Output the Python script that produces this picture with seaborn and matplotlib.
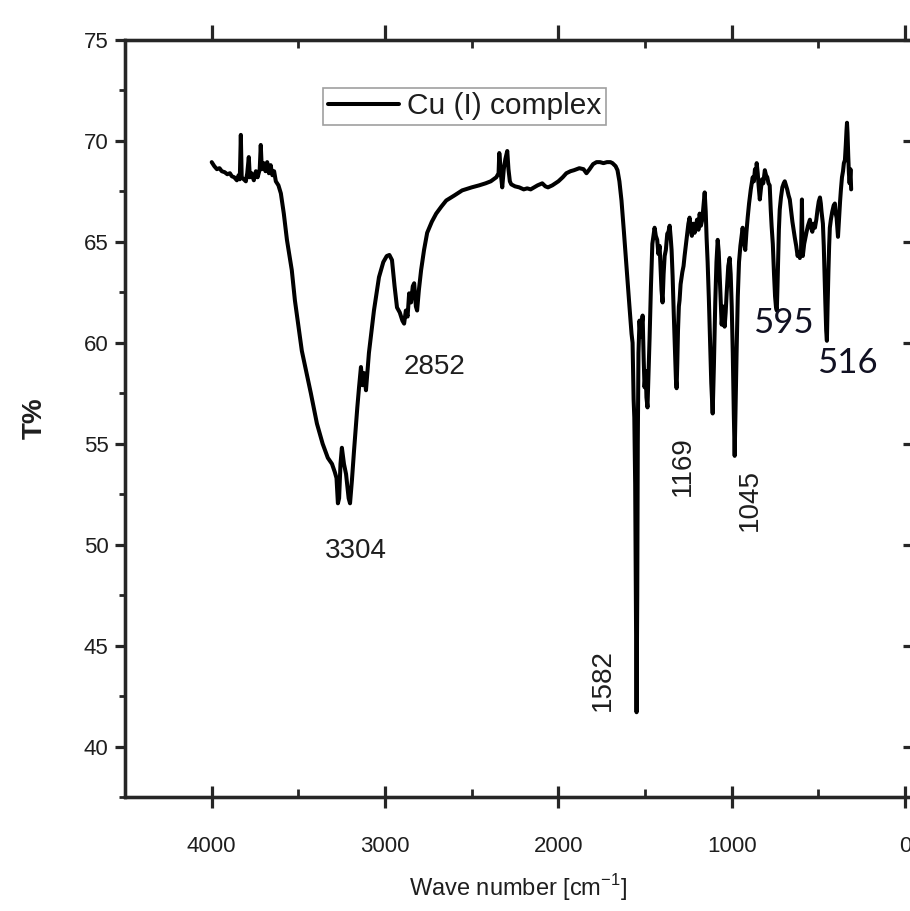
import numpy as np
import matplotlib
matplotlib.use("Agg")
import matplotlib.pyplot as plt
import seaborn as sns
from matplotlib.ticker import MultipleLocator

# -------------------------------
# FTIR spectrum of the Cu(I) complex
# -------------------------------
# 4000 - 2990 cm-1 (broad O-H / N-H band)
wn_high = [4000, 3985, 3970, 3955, 3942, 3925, 3910, 3895, 3884, 3870,
           3855, 3845, 3838, 3832, 3827, 3815, 3803, 3795, 3786, 3780,
           3770, 3757, 3745, 3735, 3723, 3717, 3711, 3700, 3690, 3680,
           3670, 3660, 3650, 3640, 3630, 3615, 3601, 3584, 3566, 3538,
           3520, 3480, 3428, 3393, 3360, 3330, 3306, 3290, 3280, 3272,
           3265, 3257, 3249, 3237, 3225, 3210, 3202, 3191, 3179, 3160,
           3150, 3139, 3130, 3121, 3110, 3093, 3064, 3035, 3010, 2990]
t_high = [68.95, 68.75, 68.6, 68.65, 68.5, 68.45, 68.35, 68.4, 68.25, 68.2,
          68.05, 68.3, 68.1, 70.3, 68.2, 68.1, 68.0, 68.4, 69.2, 68.2,
          68.4, 68.05, 68.5, 68.2, 68.6, 69.8, 68.6, 68.9, 68.5, 68.95,
          68.4, 68.8, 68.3, 68.5, 68.0, 67.8, 67.4, 66.4, 65.1, 63.6,
          62.1, 59.6, 57.5, 56.0, 55.0, 54.3, 54.0, 53.6, 53.3, 52.05,
          52.3, 54.0, 54.8, 54.0, 53.5, 52.3, 52.05, 53.2, 54.65, 56.8,
          57.8, 58.8, 57.9, 58.5, 57.65, 59.5, 61.6, 63.25, 64.0, 64.3]

# 2975 - 1659 cm-1
wn_mid = [2975, 2960, 2945, 2931, 2915, 2900, 2890, 2880, 2870, 2861,
          2850, 2840, 2832, 2822, 2815, 2805, 2792, 2775, 2757, 2730,
          2705, 2675, 2647, 2600, 2555, 2500, 2457, 2420, 2390, 2358,
          2345, 2341, 2335, 2330, 2324, 2315, 2306, 2295, 2288, 2280,
          2272, 2250, 2226, 2200, 2180, 2160, 2150, 2120, 2093, 2075,
          2060, 2035, 2000, 1975, 1954, 1930, 1910, 1879, 1855, 1838,
          1820, 1800, 1780, 1760, 1740, 1720, 1700, 1688, 1670, 1659]
t_mid = [64.35, 64.1, 62.8, 61.75, 61.5, 61.1, 60.95, 61.6, 61.3, 62.45,
         62.0, 62.8, 62.95, 61.8, 61.6, 62.6, 63.6, 64.6, 65.45, 66.0,
         66.4, 66.75, 67.05, 67.3, 67.55, 67.7, 67.8, 67.9, 68.0, 68.2,
         68.4, 69.4, 68.8, 68.2, 67.7, 68.6, 69.1, 69.5, 68.6, 68.0,
         67.85, 67.75, 67.7, 67.6, 67.65, 67.6, 67.65, 67.8, 67.9, 67.75,
         67.7, 67.8, 68.0, 68.2, 68.4, 68.5, 68.55, 68.65, 68.6, 68.4,
         68.6, 68.85, 68.95, 68.95, 68.9, 68.95, 68.95, 68.9, 68.75, 68.55]

# 1648 - 937 cm-1 (fingerprint, strong bands)
wn_fp = [1648, 1636, 1622, 1607, 1590, 1578, 1572, 1566, 1562, 1557,
         1553, 1549, 1545, 1542, 1538, 1532, 1526, 1520, 1514, 1508,
         1503, 1496, 1492, 1486, 1480, 1474, 1466, 1458, 1450, 1445,
         1438, 1430, 1423, 1416, 1410, 1405, 1399, 1393, 1387, 1380,
         1372, 1365, 1358, 1352, 1347, 1341, 1335, 1328, 1322, 1318,
         1314, 1310, 1305, 1301, 1295, 1285, 1278, 1272, 1265, 1258,
         1250, 1243, 1236, 1230, 1222, 1214, 1207, 1200, 1192, 1185,
         1178, 1170, 1163, 1156, 1150, 1145, 1139, 1132, 1125, 1118,
         1110, 1103, 1095, 1088, 1081, 1075, 1070, 1064, 1058, 1050,
         1041, 1035, 1029, 1020, 1012, 1006, 1000, 994, 988, 983,
         978, 972, 965, 958, 950, 944, 937]
t_fp = [68.0, 67.05, 65.5, 63.75, 61.8, 60.45, 60.0, 57.2, 56.3, 53.0,
        47.0, 41.7, 47.5, 55.0, 59.5, 61.1, 60.3, 60.8, 61.35, 59.2,
        57.8, 58.6, 57.3, 56.8, 58.5, 60.2, 62.8, 64.9, 65.4, 65.7,
        65.3, 65.1, 64.4, 64.8, 63.6, 62.6, 62.0, 63.4, 64.3, 64.6,
        65.4, 65.5, 65.8, 65.2, 64.6, 63.3, 61.6, 59.8, 58.2, 57.75,
        59.0, 60.6, 61.8, 62.1, 62.9, 63.5, 63.8, 64.3, 64.8, 65.3,
        65.9, 66.2, 65.6, 65.3, 65.9, 65.45, 65.8, 66.1, 65.6, 66.4,
        65.8, 66.1, 66.8, 67.45, 66.5, 65.2, 64.0, 62.2, 60.0, 58.0,
        56.5, 58.8, 62.0, 64.0, 65.1, 64.5, 63.4, 62.0, 60.9, 61.8,
        60.8, 61.5, 62.5, 63.8, 64.2, 63.4, 61.8, 59.5, 56.5, 54.4,
        56.8, 59.5, 62.3, 64.0, 64.8, 65.2, 65.7]

# 930 - 311 cm-1
wn_low = [930, 922, 915, 908, 900, 890, 879, 872, 866, 860,
          856, 850, 845, 838, 832, 825, 818, 809, 802, 795,
          788, 781, 775, 770, 763, 756, 750, 745, 740, 736,
          732, 728, 723, 716, 708, 700, 694, 687, 680, 672,
          665, 658, 650, 643, 636, 628, 620, 613, 607, 600,
          597, 595, 593, 590, 582, 575, 568, 560, 549, 542,
          535, 528, 520, 512, 505, 498, 491, 486, 482, 478,
          474, 469, 465, 460, 455, 451, 447, 442, 438, 434,
          428, 420, 412, 405, 400, 395, 390, 387, 382, 375,
          370, 364, 358, 353, 347, 342, 338, 335, 332, 328,
          324, 320, 315, 311]
t_low = [65.0, 64.6, 65.5, 66.2, 66.9, 67.6, 68.2, 68.0, 68.6, 68.3,
         68.9, 68.4, 67.8, 67.1, 67.6, 68.1, 67.9, 68.55, 68.3, 68.2,
         67.9, 67.8, 66.6, 65.8, 64.9, 63.4, 62.3, 61.8, 61.6, 62.8,
         64.2, 65.6, 66.6, 67.2, 67.7, 67.9, 68.0, 67.8, 67.6, 67.3,
         67.1, 66.6, 66.0, 65.6, 65.2, 64.8, 64.3, 64.5, 64.2, 64.6,
         66.0, 67.1, 65.6, 64.3, 64.9, 65.2, 65.5, 65.8, 66.1, 65.7,
         65.5, 65.9, 65.7, 66.1, 66.6, 67.0, 67.2, 66.9, 66.5, 66.2,
         65.9, 64.8, 63.5, 62.0, 60.6, 60.1, 61.8, 63.6, 64.8, 65.7,
         66.1, 66.5, 66.8, 66.9, 66.4, 66.2, 65.6, 65.25, 66.0, 67.0,
         67.6, 68.2, 68.5, 68.9, 69.05, 69.8, 70.5, 70.9, 70.4, 69.3,
         68.4, 67.9, 68.6, 67.6]

peak_labels = ["3304", "2852", "1582", "1169", "1045", "595", "516"]
x_ticks = [4000, 3000, 2000, 1000, 0]
y_ticks = [40, 45, 50, 55, 60, 65, 70, 75]

wavenumber = np.concatenate([wn_high, wn_mid, wn_fp, wn_low])
transmittance = np.concatenate([t_high, t_mid, t_fp, t_low])

# -------------------------------
# Style
# -------------------------------
sns.set_style("ticks")
plt.rcParams["font.family"] = ["Liberation Sans", "DejaVu Sans"]
plt.rcParams["axes.linewidth"] = 2.3
txt_col = "#1e1e1e"

fig = plt.figure(figsize=(9.1, 9.11), dpi=100)
ax = fig.add_axes([0.1374, 0.1251, 0.8648, 0.831])

sns.lineplot(x=wavenumber, y=transmittance, ax=ax, color="black",
             linewidth=2.9, sort=False, estimator=None, label="Cu (I) complex")

ax.set_xlim(4500, -40)
ax.set_ylim(37.5, 75)
ax.set_xticks(x_ticks)
ax.set_yticks(y_ticks)
ax.xaxis.set_minor_locator(MultipleLocator(500))
ax.yaxis.set_minor_locator(MultipleLocator(2.5))

ax.tick_params(axis="x", which="major", direction="inout", length=16, width=2.3,
               top=False, labelsize=16, labelcolor=txt_col, pad=20)
ax.tick_params(axis="x", which="minor", direction="in", length=6, width=2.0, top=False)
ax.tick_params(axis="y", which="major", direction="out", length=7, width=2.3,
               right=False, labelsize=16, labelcolor=txt_col, pad=5)
ax.tick_params(axis="y", which="minor", direction="out", length=4.5, width=2.0, right=False)

# top and right ticks go the other way, so draw them on twin axes
axt = ax.twiny()
axt.set_xlim(ax.get_xlim())
axt.set_xticks(x_ticks)
axt.xaxis.set_minor_locator(MultipleLocator(500))
axt.tick_params(axis="x", which="major", direction="out", length=11, width=2.3, labeltop=False)
axt.tick_params(axis="x", which="minor", direction="in", length=6, width=2.0)

axr = ax.twinx()
axr.set_ylim(ax.get_ylim())
axr.set_yticks(y_ticks)
axr.tick_params(axis="y", which="major", direction="in", length=6.5, width=2.3, labelright=False)

ax.set_xlabel("Wave number [cm$^{\\mathregular{-1}}$]", fontsize=17, color=txt_col, labelpad=11)
ax.set_ylabel("T%", fontsize=20, fontweight="bold", color=txt_col, labelpad=26)

leg = ax.legend(loc="upper left", bbox_to_anchor=(0.2516, 0.9366), borderaxespad=0,
                fontsize=21.5, frameon=True, fancybox=False, handlelength=2.4,
                handletextpad=0.25, borderpad=0.15)
leg.get_frame().set_edgecolor("#888888")
leg.get_frame().set_linewidth(1.2)
for t in leg.get_texts():
    t.set_color(txt_col)

# peak labels
arial = dict(fontsize=20, color=txt_col, ha="center", va="center")
ax.text(3168, 49.7, peak_labels[0], **arial)
ax.text(2717, 58.8, peak_labels[1], **arial)
ax.text(1746, 43.3, peak_labels[2], rotation=90, **arial)
ax.text(1283, 53.9, peak_labels[3], rotation=90, **arial)
ax.text(896, 52.2, peak_labels[4], rotation=90, **arial)
calib = dict(fontsize=25, color="#111122", ha="center", va="center", family=["Lato", "DejaVu Sans"])
ax.text(705, 61.0, peak_labels[5], **calib)
ax.text(335, 59.0, peak_labels[6], **calib)

fig.savefig("out.png", dpi=100)
